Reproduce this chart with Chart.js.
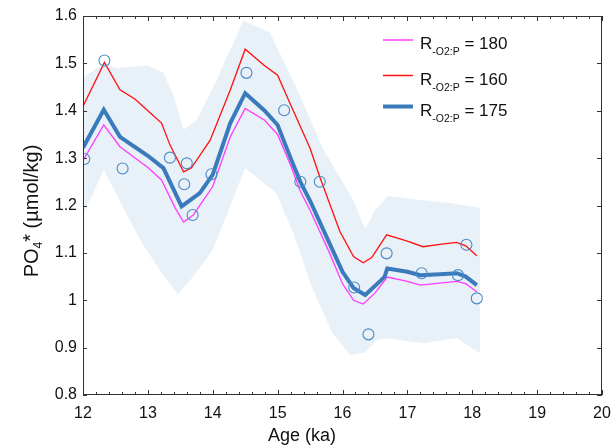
<!DOCTYPE html>
<html>
<head>
<meta charset="utf-8">
<script src="https://cdn.jsdelivr.net/npm/chart.js@4.4.1/dist/chart.umd.min.js"></script>
<style>
  html,body{margin:0;padding:0;background:#fff;}
  canvas{display:block;}
</style>
</head>
<body>
<canvas id="po4Chart" width="613" height="448"></canvas>
<script>
// axis ticks
const xTicks=[12,13,14,15,16,17,18,19,20];
const yTicks=[0.8,0.9,1.0,1.1,1.2,1.3,1.4,1.5,1.6];

// uncertainty band (upper / lower edge)
const bandUpAge=[12.0,12.33,12.5,13.0,13.24,13.4,13.55,13.75,14.06,14.47,14.88,15.04,15.35,15.7,16.0,16.17,16.35,16.5,16.7,17.0,17.3,17.7,17.9,18.12];
const bandUpVal=[1.47,1.50,1.49,1.495,1.48,1.43,1.36,1.38,1.465,1.59,1.565,1.52,1.43,1.32,1.25,1.21,1.15,1.19,1.22,1.215,1.21,1.205,1.20,1.195];
const bandLoAge=[12.0,12.32,12.88,13.2,13.46,13.7,14.0,14.5,14.98,15.24,15.55,15.85,16.12,16.35,16.53,16.68,17.24,17.76,18.12];
const bandLoVal=[1.18,1.275,1.127,1.06,1.012,1.05,1.106,1.279,1.226,1.142,1.02,0.93,0.884,0.89,0.916,0.92,0.909,0.92,0.888];

// R-O2:P = 180
const magAge=[12.0,12.32,12.57,13.0,13.21,13.42,13.55,13.7,14.0,14.27,14.5,14.8,15.0,15.2,15.35,15.5,15.8,16.0,16.17,16.32,16.5,16.69,17.0,17.2,17.5,17.76,17.9,18.07];
const magVal=[1.295,1.370,1.324,1.28,1.254,1.195,1.165,1.18,1.24,1.345,1.405,1.38,1.35,1.285,1.23,1.19,1.10,1.035,1.0,0.992,1.015,1.049,1.04,1.032,1.036,1.04,1.035,1.018];

// R-O2:P = 160
const redAge=[12.0,12.33,12.57,12.8,13.0,13.21,13.34,13.55,13.67,13.96,14.27,14.5,14.8,15.0,15.19,15.5,15.65,15.96,16.17,16.32,16.45,16.68,17.0,17.24,17.5,17.76,17.9,18.07];
const redVal=[1.409,1.502,1.444,1.425,1.40,1.374,1.328,1.271,1.279,1.338,1.444,1.530,1.495,1.475,1.416,1.321,1.26,1.145,1.092,1.079,1.09,1.138,1.125,1.113,1.118,1.122,1.115,1.094];

// R-O2:P = 175
const blueAge=[12.0,12.32,12.57,13.0,13.24,13.52,13.8,14.0,14.27,14.5,14.8,15.0,15.2,15.35,15.5,15.8,16.0,16.17,16.35,16.6,16.65,16.69,17.0,17.2,17.5,17.76,17.9,18.07];
const blueVal=[1.322,1.402,1.345,1.305,1.279,1.198,1.226,1.265,1.374,1.437,1.40,1.37,1.30,1.25,1.21,1.12,1.06,1.026,1.011,1.043,1.05,1.067,1.06,1.053,1.055,1.057,1.05,1.032];

// measured PO4*
const obsAge=[12.02,12.33,12.61,13.34,13.56,13.6,13.69,13.98,14.52,15.1,15.35,15.65,16.18,16.4,16.68,17.22,17.78,17.91,18.07];
const obsVal=[1.298,1.506,1.278,1.301,1.245,1.289,1.18,1.266,1.480,1.401,1.25,1.25,1.027,0.928,1.099,1.057,1.053,1.117,1.004];

const xy=(a,b)=>a.map((v,i)=>({x:v,y:b[i]}));

const BAND='#e8f0f8', MAG='#ff3cff', RED='#ff1010', BLUE='#3a7bbb', OBS='#4a8ac6';
const FONT='"Liberation Sans", Arial, sans-serif';

const legendItems=[
  {val:'180',color:MAG,w:1.5,y:40},
  {val:'160',color:RED,w:1.5,y:75.5},
  {val:'175',color:BLUE,w:4,y:106.5},
];

function richText(ctx,parts,x,y,align){
  let w=0;
  parts.forEach(p=>{ctx.font=p.size+'px '+FONT;w+=ctx.measureText(p.t).width;});
  let cx=align==='center'?x-w/2:x;
  parts.forEach(p=>{
    ctx.font=p.size+'px '+FONT;
    ctx.fillText(p.t,cx,y+(p.dy||0));
    cx+=ctx.measureText(p.t).width;
  });
}

const decor={
  id:'decor',
  afterDatasetsDraw(c){
    const {ctx,chartArea:a,scales:{x,y}}=c;
    ctx.save();
    ctx.strokeStyle='#333';
    ctx.lineWidth=1;
    ctx.strokeRect(Math.round(a.left)+.5,Math.round(a.top)+.5,Math.round(a.right-a.left)-1,Math.round(a.bottom-a.top)-1);
    ctx.beginPath();
    for(let i=0;i<=40;i++){
      const v=12+i*0.2, px=Math.round(x.getPixelForValue(v))+.5, len=i%5===0?5:3;
      ctx.moveTo(px,a.bottom);ctx.lineTo(px,a.bottom-len);
      ctx.moveTo(px,a.top);ctx.lineTo(px,a.top+len);
    }
    yTicks.forEach(v=>{
      const py=Math.round(y.getPixelForValue(v))+.5;
      ctx.moveTo(a.left,py);ctx.lineTo(a.left+4,py);
      ctx.moveTo(a.right,py);ctx.lineTo(a.right-5,py);
    });
    ctx.stroke();
    ctx.restore();
  },
  afterDraw(c){
    const {ctx}=c;
    ctx.save();
    ctx.fillStyle='#111';
    ctx.textBaseline='alphabetic';
    // x title
    richText(ctx,[{t:'Age (ka)',size:18}],302,441,'center');
    // y title
    ctx.save();
    ctx.translate(38,211);
    ctx.rotate(-Math.PI/2);
    richText(ctx,[{t:'PO',size:20},{t:'4',size:12,dy:4},{t:'*',size:20,dy:-1},{t:' (µmol/kg)',size:20}],0,0,'center');
    ctx.restore();
    // legend
    legendItems.forEach(it=>{
      ctx.strokeStyle=it.color;ctx.lineWidth=it.w;
      ctx.beginPath();ctx.moveTo(383,it.y);ctx.lineTo(413,it.y);ctx.stroke();
      richText(ctx,[{t:'R',size:17},{t:'-O2:P',size:10.5,dy:6},{t:' = '+it.val,size:17}],420,it.y+9);
    });
    ctx.restore();
  }
};

new Chart(document.getElementById('po4Chart'),{type:'line',
  data:{datasets:[
    {data:xy(obsAge,obsVal),showLine:false,pointRadius:5.5,pointHoverRadius:5.5,pointBackgroundColor:'rgba(0,0,0,0)',pointBorderColor:OBS,pointBorderWidth:1.1},
    {data:xy(blueAge,blueVal),borderColor:BLUE,borderWidth:4,pointRadius:0,tension:0},
    {data:xy(redAge,redVal),borderColor:RED,borderWidth:1.3,pointRadius:0,tension:0},
    {data:xy(magAge,magVal),borderColor:MAG,borderWidth:1.3,pointRadius:0,tension:0},
    {data:xy(bandUpAge,bandUpVal),borderWidth:0,borderColor:BAND,backgroundColor:BAND,pointRadius:0,fill:5,tension:0},
    {data:xy(bandLoAge,bandLoVal),borderWidth:0,borderColor:BAND,pointRadius:0,fill:false,tension:0},
  ]},
  options:{responsive:false,animation:false,devicePixelRatio:1,
    layout:{padding:{top:16,right:11,left:0,bottom:0}},
    plugins:{legend:{display:false},tooltip:{enabled:false}},
    scales:{
      x:{type:'linear',min:12,max:20,
        afterBuildTicks:s=>{s.ticks=xTicks.map(v=>({value:v}));},
        afterFit:s=>{s.height=53;s.paddingLeft=0;s.paddingRight=0;},
        grid:{display:false,drawTicks:false},border:{display:false},
        ticks:{font:{size:16,family:FONT},color:'#111',padding:9,maxRotation:0}},
      y:{type:'linear',min:0.8,max:1.6,
        afterBuildTicks:s=>{s.ticks=yTicks.map(v=>({value:v}));},
        afterFit:s=>{s.width=83;s.paddingTop=0;s.paddingBottom=0;},
        grid:{display:false,drawTicks:false},border:{display:false},
        ticks:{font:{size:16,family:FONT},color:'#111',padding:6,callback:v=>String(+(+v).toFixed(1))}}
    }
  },
  plugins:[decor]
});
</script>
</body>
</html>
